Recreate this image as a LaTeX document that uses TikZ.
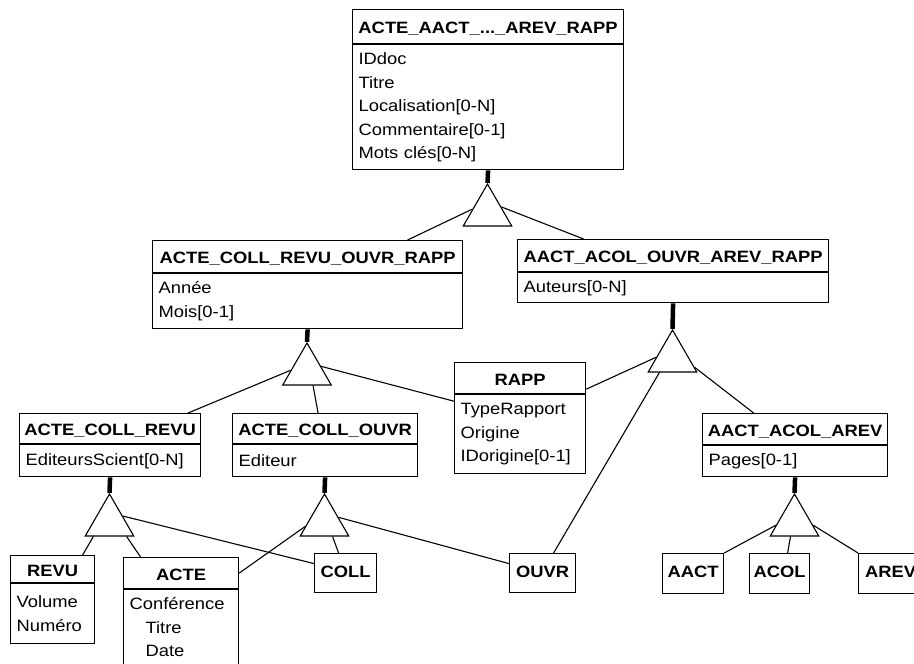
\documentclass[tikz,border=0pt]{standalone}
\usepackage{fontspec}
\setmainfont{Liberation Sans}[FakeStretch=1.12]
\usetikzlibrary{calc,shapes.geometric}

\begin{document}
\begin{tikzpicture}[x=1pt,y=-1pt,
    every node/.style={font=\fontsize{16.4}{23.5}\selectfont}]
 % page
  \fill[white] (0,0) rectangle (914,664);
  \useasboundingbox (0,0) rectangle (914,664);

  \tikzset{hdr/.style={draw,line width=1.2pt,anchor=north west,inner sep=2pt,
             font=\fontsize{16.4}{23.5}\selectfont\bfseries,text height=14pt,text depth=0pt},
           att/.style={draw,line width=1.2pt,anchor=north west,align=left,
             inner xsep=6pt,inner ysep=4pt},
           leaf/.style={hdr,minimum height=39,text height=11pt,text depth=3pt},
           isa/.style={draw,line width=1.1pt,regular polygon,regular polygon sides=3,
             minimum size=56,inner sep=0pt},
           isastem/.style={line width=4.5pt},
           link/.style={line width=1.1pt}}

 % classes with attributes
  \node[hdr,minimum width=271,minimum height=34] (doc) at (352,9) {ACTE\_AACT\_...\_AREV\_RAPP};
  \node[att,text width=259,minimum height=125] (doc-a) at (doc.south west)
    {IDdoc\\Titre\\Localisation[0-N]\\Commentaire[0-1]\\Mots clés[0-N]};

  \node[hdr,minimum width=310,minimum height=32] (pub) at (152,240) {ACTE\_COLL\_REVU\_OUVR\_RAPP};
  \node[att,text width=298,minimum height=55] (pub-a) at (pub.south west) {Année\\Mois[0-1]};

  \node[hdr,minimum width=311,minimum height=32] (aut) at (517,239) {AACT\_ACOL\_OUVR\_AREV\_RAPP};
  \node[att,text width=299,minimum height=30] (aut-a) at (aut.south west) {Auteurs[0-N]};

  \node[hdr,minimum width=131,minimum height=31] (rapp) at (454,362) {RAPP};
  \node[att,text width=119,minimum height=79] (rapp-a) at (rapp.south west)
    {TypeRapport\\Origine\\IDorigine[0-1]};

  \node[hdr,minimum width=181,minimum height=30] (edsci) at (19,413) {ACTE\_COLL\_REVU};
  \node[att,text width=169,minimum height=32] (edsci-a) at (edsci.south west) {EditeursScient[0-N]};

  \node[hdr,minimum width=185,minimum height=30] (edit) at (232,413) {ACTE\_COLL\_OUVR};
  \node[att,text width=173,minimum height=32] (edit-a) at (edit.south west) {Editeur};

  \node[hdr,minimum width=185,minimum height=31] (pages) at (702,413) {AACT\_ACOL\_AREV};
  \node[att,text width=173,minimum height=31] (pages-a) at (pages.south west) {Pages[0-1]};

  \node[hdr,minimum width=84,minimum height=27] (revu) at (10,555) {REVU};
  \node[att,text width=72,minimum height=60] (revu-a) at (revu.south west) {Volume\\Numéro};

  \node[hdr,minimum width=115,minimum height=31] (acte) at (123,557) {ACTE};
  \node[att,text width=103,text height=16pt,text depth=80pt] (acte-a) at (acte.south west)
    {Conférence\\\hspace*{16pt}Titre\\\hspace*{16pt}Date};

 % leaf classes
  \node[leaf,minimum width=62] (coll) at (314,553) {COLL};
  \node[leaf,minimum width=66] (ouvr) at (509,553) {OUVR};
  \node[leaf,minimum width=61,minimum height=40] (aact) at (662,553) {AACT};
  \node[leaf,minimum width=60,minimum height=40] (acol) at (749,553) {ACOL};
  \node[leaf,minimum width=64,minimum height=40] (arev) at (858,553) {AREV};

 % specialisation triangles
  \node[isa] (isa-doc) at (487.5,212) {};
  \node[isa] (isa-pub) at (307,371) {};
  \node[isa] (isa-aut) at (672.5,358) {};
  \node[isa] (isa-edsci) at (109.5,522) {};
  \node[isa] (isa-edit) at (324.5,522) {};
  \node[isa] (isa-pages) at (794.5,522) {};

  \draw[isastem] (doc-a.south) -- (isa-doc.corner 1);
  \draw[isastem] (pub-a.south) -- (isa-pub.corner 1);
  \draw[isastem] (aut-a.south) -- (isa-aut.corner 1);
  \draw[isastem] (edsci-a.south) -- (isa-edsci.corner 1);
  \draw[isastem] (edit-a.south) -- (isa-edit.corner 1);
  \draw[isastem] (pages-a.south) -- (isa-pages.corner 1);

 % links to the subclasses
  \draw[link] ($(isa-doc.corner 1)!.6!(isa-doc.corner 2)$) -- ([xshift=100]pub.north);
  \draw[link] ($(isa-doc.corner 1)!.55!(isa-doc.corner 3)$) -- ([xshift=-89.5]aut.north);

  \draw[link] ($(isa-pub.corner 1)!.65!(isa-pub.corner 2)$) -- ([xshift=78]edsci.north);
  \draw[link] ($(isa-pub.corner 2)!.62!(isa-pub.corner 3)$) -- ([xshift=-7]edit.north);
  \draw[link] ($(isa-pub.corner 1)!.56!(isa-pub.corner 3)$) -- ([yshift=-7]rapp-a.north west);

  \draw[link] ($(isa-aut.corner 1)!.65!(isa-aut.corner 2)$) -- ([yshift=5]rapp.south east);
  \draw[link] ($(isa-aut.corner 2)!.24!(isa-aut.corner 3)$) -- ([xshift=11]ouvr.north);
  \draw[link] ($(isa-aut.corner 1)!.88!(isa-aut.corner 3)$) -- ([xshift=-41.5]pages.north);

  \draw[link] ($(isa-edsci.corner 2)!.18!(isa-edsci.corner 3)$) -- ([xshift=30]revu.north);
  \draw[link] ($(isa-edsci.corner 2)!.84!(isa-edsci.corner 3)$) -- ([xshift=-40.5]acte.north);
  \draw[link] ($(isa-edsci.corner 1)!.53!(isa-edsci.corner 3)$) -- ([yshift=9.5]coll.west);

  \draw[link] ($(isa-edit.corner 1)!.77!(isa-edit.corner 2)$) -- (acte.east);
  \draw[link] ($(isa-edit.corner 2)!.66!(isa-edit.corner 3)$) -- ([xshift=-7]coll.north);
  \draw[link] ($(isa-edit.corner 1)!.56!(isa-edit.corner 3)$) -- ([yshift=9.5]ouvr.west);

  \draw[link] ($(isa-pages.corner 1)!.74!(isa-pages.corner 2)$) -- (aact.north east);
  \draw[link] ($(isa-pages.corner 2)!.42!(isa-pages.corner 3)$) -- ([xshift=8]acol.north);
  \draw[link] ($(isa-pages.corner 1)!.74!(isa-pages.corner 3)$) -- (arev.north west);
\end{tikzpicture}
\end{document}
